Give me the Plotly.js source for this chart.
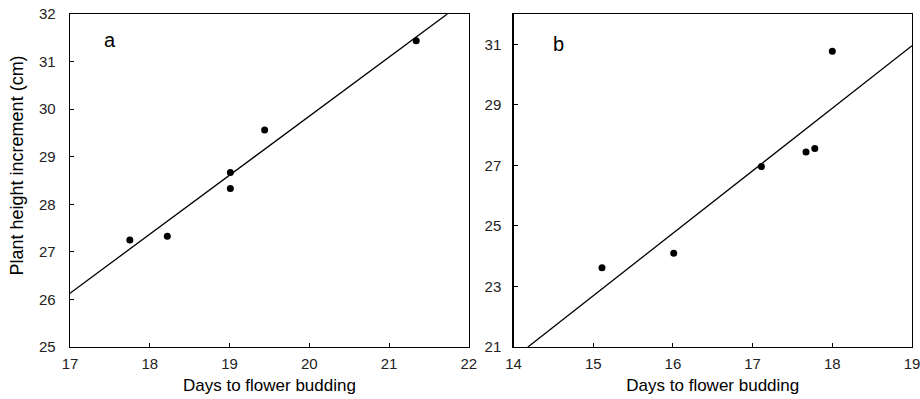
<!DOCTYPE html>
<html>
<head>
<meta charset="utf-8">
<script src="https://cdn.plot.ly/plotly-3.0.1.min.js"></script>
<style>html,body{margin:0;padding:0;background:#fff;}#chart{width:920px;height:399px;}</style>
</head>
<body>
<div id="chart"></div>
<script>
// Panel a data
const aDays = [17.75, 18.22, 19.01, 19.01, 19.44, 21.34];
const aHeight = [27.25, 27.33, 28.67, 28.33, 29.56, 31.44];
const aFitX = [17, 21.73];
const aFitY = [26.13, 32];
// Panel b data
const bDays = [15.11, 16.01, 17.11, 17.67, 17.78, 18.0];
const bHeight = [23.62, 24.10, 26.96, 27.44, 27.56, 30.77];
const bFitX = [14.18, 19];
const bFitY = [21, 30.95];
const aTicksX = [17, 18, 19, 20, 21, 22];
const aTicksY = [25, 26, 27, 28, 29, 30, 31, 32];
const bTicksX = [14, 15, 16, 17, 18, 19];
const bTicksY = [21, 23, 25, 27, 29, 31];

const fam = 'Liberation Sans, Arial, sans-serif';
const mk = {color: '#000', size: 7};
const ln = {color: '#000', width: 1.3};

const traces = [
  {x: aFitX, y: aFitY, mode: 'lines', line: ln, xaxis: 'x', yaxis: 'y', hoverinfo: 'skip'},
  {x: aDays, y: aHeight, mode: 'markers', marker: mk, xaxis: 'x', yaxis: 'y'},
  {x: bFitX, y: bFitY, mode: 'lines', line: ln, xaxis: 'x2', yaxis: 'y2', hoverinfo: 'skip'},
  {x: bDays, y: bHeight, mode: 'markers', marker: mk, xaxis: 'x2', yaxis: 'y2'}
];

function ax(extra) {
  return Object.assign({
    showgrid: false, zeroline: false, showline: true, mirror: true,
    linecolor: '#000', linewidth: 1.3, ticks: 'inside', ticklen: 4,
    tickcolor: '#000', tickwidth: 1, tickfont: {family: fam, size: 15, color: '#222'},
    ticklabeloverflow: 'allow', fixedrange: true
  }, extra);
}

const xTitle = {text: 'Days to flower budding', font: {family: fam, size: 17, color: '#000'}, standoff: 7};

const layout = {
  width: 920, height: 399,
  margin: {l: 70, r: 8, t: 14, b: 52},
  paper_bgcolor: '#fff', plot_bgcolor: '#fff',
  showlegend: false,
  font: {family: fam, color: '#000'},
  xaxis: ax({domain: [0, 0.4737], range: [17, 22], tickvals: aTicksX, anchor: 'y', ticklabelstandoff: 3, title: xTitle}),
  yaxis: ax({domain: [0, 1], range: [25, 32], tickvals: aTicksY, anchor: 'x', ticklabelstandoff: 10}),
  xaxis2: ax({domain: [0.5268, 1], range: [14, 19], tickvals: bTicksX, anchor: 'y2', ticklabelstandoff: 3, title: xTitle}),
  yaxis2: ax({domain: [0, 1], range: [21, 32], tickvals: bTicksY, anchor: 'x2', ticklabelstandoff: 8}),
  annotations: [
    {x: 17.5, y: 31.45, xref: 'x', yref: 'y', text: 'a', showarrow: false, font: {family: fam, size: 20, color: '#000'}},
    {x: 14.57, y: 31.0, xref: 'x2', yref: 'y2', text: 'b', showarrow: false, font: {family: fam, size: 20, color: '#000'}},
    {x: -0.063, y: 0.545, xref: 'paper', yref: 'paper', xanchor: 'center', yanchor: 'middle', textangle: -90,
     text: 'Plant height increment (cm)', showarrow: false, font: {family: fam, size: 18, color: '#000'}}
  ]
};

Plotly.newPlot('chart', traces, layout, {displayModeBar: false, staticPlot: true});
</script>
</body>
</html>
